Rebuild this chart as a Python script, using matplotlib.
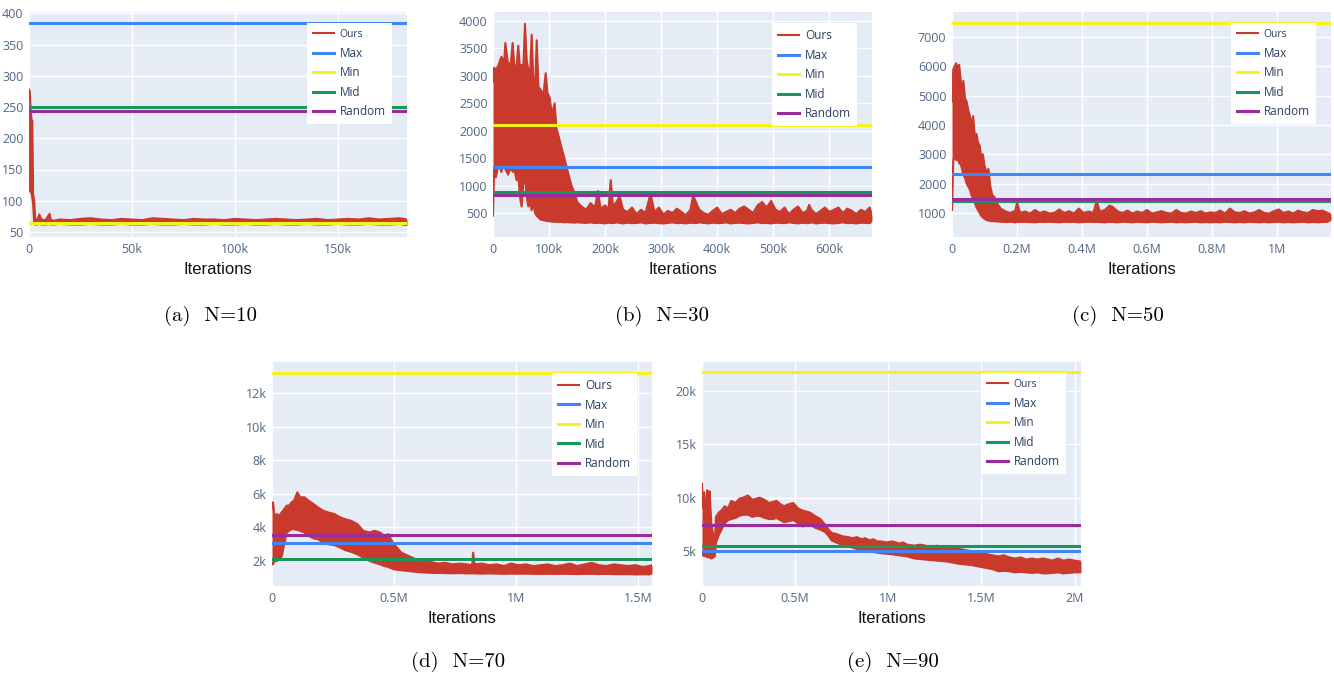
import matplotlib
matplotlib.use('Agg')
import matplotlib.pyplot as plt

# ---- data ----
# baselines (Max, Min, Mid, Random) per panel
base_labels = ['Max', 'Min', 'Mid', 'Random']
base_a = [385, 65, 250, 243]
base_b = [1340, 2100, 880, 830]
base_c = [2330, 7480, 1420, 1460]
base_d = [3100, 13220, 2150, 3550]
base_e = [5000, 21750, 5500, 7400]

# "Ours" curve as lower / upper envelope. (a),(b): thousands of iterations; (c),(d),(e): millions
x_a = [0, 0.4, 0.8, 1.2, 1.6, 2.0, 2.5, 3, 4, 5, 6, 8, 10, 10.5, 12, 15, 20, 25, 30, 35, 40, 45,
       50, 55, 60, 65, 70, 75, 80, 85, 90, 95, 100, 105, 110, 115, 120, 125, 130, 135, 140, 145,
       150, 155, 160, 165, 170, 175, 180, 183.5]
hi_a = [278, 275, 245, 230, 228, 110, 100, 72, 68, 78, 70, 69, 79, 70, 68, 70, 69, 71, 72, 70, 69, 71,
        70, 69, 72, 71, 70, 69, 71, 70, 70, 69, 71, 70, 69, 70, 71, 70, 69, 70, 71, 69,
        70, 71, 70, 72, 70, 71, 72, 70]
lo_a = [245, 115, 118, 112, 105, 95, 66, 62, 62, 63, 62, 62, 63, 62, 62, 63, 62, 62, 63, 62, 62, 63,
        62, 62, 63, 62, 62, 63, 62, 62, 63, 62, 62, 63, 62, 62, 63, 62, 62, 63, 62, 62,
        63, 62, 62, 63, 62, 62, 63, 61]

x_b = [0, 2, 5, 10, 15, 20, 22, 27, 32, 35, 38, 42, 45, 48, 51, 54, 57, 60, 63, 66,
       69, 72, 75, 78, 81, 85, 90, 94, 97, 101, 105, 110, 113, 117, 122, 126, 131, 136, 140, 146,
       150, 158, 166, 174, 182, 187, 192, 200, 206, 210, 214, 220, 226, 232, 240, 248, 256, 264,
       272, 281, 288, 296, 304, 312, 320, 328, 336, 344, 352, 357, 362, 368, 376, 384, 392, 400,
       408, 416, 424, 432, 440, 448, 456, 464, 472, 480, 488, 496, 504, 512, 520, 528, 536, 544,
       552, 560, 564, 568, 576, 584, 592, 600, 608, 616, 624, 632, 640, 648, 656, 664, 672, 676]
hi_b = [2900, 3150, 3100, 3200, 3350, 3250, 3600, 3200, 3250, 3600, 3200, 3150, 3550, 3150, 3200,
        3100, 3950, 3300, 3100, 3000, 3750, 2900, 2750, 3650, 2800, 2750, 2650, 3050, 2700, 2600,
        2300, 2500, 2050, 1900, 1700, 1550, 1350, 1150, 1000, 850,
        700, 620, 560, 680, 600, 900, 580, 640, 560, 1100, 620, 700, 800, 560, 520, 600, 480, 560,
        500, 850, 520, 600, 470, 540, 500, 580, 520, 460, 560, 820, 700, 560, 500, 470, 540, 600,
        480, 520, 560, 500, 580, 620, 560, 500, 640, 700, 600, 720, 560, 520, 600, 480, 560, 620,
        500, 540, 650, 560, 480, 540, 600, 520, 560, 600, 500, 580, 540, 480, 560, 520, 600, 450]
lo_b = [450, 1300, 1150, 1400, 1250, 1450, 1300, 1200, 1350, 1250, 1300, 1100, 1200, 800, 620,
        1000, 1250, 800, 620, 700, 550, 700, 500, 450, 420, 380, 370, 360, 355, 350, 345, 340,
        345, 335, 340, 330, 335, 330, 330, 325,
        330, 325, 320, 330, 315, 325, 320, 310, 325, 320, 315, 330, 320, 310, 325, 315, 320, 330,
        310, 320, 325, 315, 310, 320, 330, 315, 320, 310, 325, 320, 315, 330, 320, 310, 325, 315,
        320, 330, 310, 320, 325, 315, 310, 320, 330, 315, 320, 310, 325, 320, 315, 330, 320, 310,
        325, 315, 320, 330, 310, 320, 325, 315, 310, 320, 330, 315, 320, 310, 325, 320, 315, 360]

x_c = [0, 0.004, 0.008, 0.013, 0.018, 0.022, 0.027, 0.031, 0.035, 0.04, 0.045, 0.05, 0.055, 0.06,
       0.065, 0.07, 0.075, 0.08, 0.085, 0.09, 0.095, 0.1, 0.106, 0.112, 0.118, 0.124, 0.13, 0.14,
       0.15, 0.165, 0.18, 0.195, 0.2, 0.21, 0.225, 0.24, 0.255, 0.27, 0.285, 0.3, 0.315, 0.33,
       0.345, 0.36, 0.375, 0.39, 0.405, 0.42, 0.435, 0.445, 0.455, 0.47, 0.485, 0.495, 0.51, 0.525,
       0.54, 0.555, 0.57, 0.585, 0.6, 0.615, 0.63, 0.645, 0.66, 0.675, 0.69, 0.705, 0.72, 0.735,
       0.75, 0.765, 0.78, 0.795, 0.81, 0.825, 0.84, 0.855, 0.87, 0.885, 0.9, 0.915, 0.93, 0.945,
       0.96, 0.975, 0.99, 1.005, 1.02, 1.035, 1.05, 1.065, 1.08, 1.095, 1.11, 1.125, 1.14, 1.155,
       1.166]
hi_c = [4800, 5900, 6000, 6100, 5900, 6050, 5500, 5200, 5500, 4900, 4800, 4500, 4300, 4000, 4300,
        3600, 3700, 3400, 3300, 2900, 3000, 2600, 2400, 2500, 1900, 1600, 1550, 1300,
        1150, 1050, 1000, 1080, 1350, 1000, 1050, 980, 1100, 1000, 1050, 980, 1000, 1120, 1000,
        1060, 980, 1150, 1000, 1050, 1000, 1400, 1050, 1100, 1250, 1200, 1050, 1000, 1080, 980,
        1050, 1000, 1100, 980, 1020, 1060, 1000, 980, 1100, 1000, 980, 1050, 1000, 1060, 980, 1020,
        1000, 1080, 980, 1150, 1020, 1000, 1060, 980, 1020, 1100, 1000, 980, 1060, 1120, 1000, 1050,
        980, 1080, 1020, 1000, 1100, 1060, 1080, 1000, 950]
lo_c = [1100, 2800, 2900, 2800, 2850, 2700, 2650, 2500, 2300, 2200, 2000, 1900, 1800, 1600, 1500,
        1350, 1200, 1100, 1000, 900, 850, 800, 760, 740, 730, 720, 720, 710,
        700, 690, 700, 680, 700, 690, 700, 690, 680, 700, 690, 700, 690, 680, 700, 690, 700, 680,
        690, 700, 690, 700, 690, 680, 700, 690, 680, 700, 690, 680, 700, 690, 680, 700, 690, 680,
        690, 700, 680, 690, 680, 690, 700, 680, 690, 680, 690, 680, 700, 690, 680, 690, 680, 700,
        690, 680, 690, 680, 690, 700, 680, 690, 680, 690, 700, 680, 690, 680, 690, 700, 760]

x_d = [0, 0.004, 0.01, 0.02, 0.03, 0.04, 0.05, 0.06, 0.07, 0.08, 0.09, 0.104, 0.115, 0.133, 0.15,
       0.17, 0.188, 0.21, 0.23, 0.256, 0.28, 0.3, 0.324, 0.35, 0.374, 0.4, 0.42, 0.443, 0.46,
       0.475, 0.5, 0.53, 0.56, 0.59, 0.62, 0.65, 0.68, 0.71, 0.74, 0.77, 0.8, 0.82, 0.824, 0.83,
       0.86, 0.89, 0.92, 0.95, 0.98, 1.01, 1.04, 1.07, 1.1, 1.13, 1.16, 1.19, 1.22, 1.25, 1.28,
       1.31, 1.34, 1.37, 1.4, 1.43, 1.46, 1.49, 1.52, 1.545, 1.557]
hi_d = [5200, 5500, 4700, 4800, 4700, 4900, 5100, 5300, 5300, 5500, 5600, 6100, 5800, 5800, 5600,
        5400, 5200, 5000, 4900, 4800, 4600, 4500, 4400, 4200, 3800, 3700, 3800, 3700, 3500, 3600,
        3000, 2500, 2300, 2100, 2000, 1950, 1850, 1900, 1800, 1850, 1800, 1750, 2500, 1800, 1850,
        1750, 1800, 1700, 1850, 1750, 1800, 1700, 1750, 1800, 1700, 1750, 1850, 1700, 1800, 1900,
        1750, 1700, 1800, 1750, 1700, 1750, 1650, 1700, 1750]
lo_d = [1900, 1800, 2000, 2000, 2100, 2300, 3000, 3700, 3800, 3900, 3900, 3850, 3800, 3700, 3500,
        3350, 3300, 3100, 3000, 2950, 2800, 2650, 2550, 2400, 2200, 2000, 1900, 1800, 1700, 1650,
        1500, 1450, 1400, 1350, 1320, 1300, 1290, 1280, 1270, 1280, 1260, 1270, 1260, 1260, 1250,
        1260, 1250, 1240, 1250, 1240, 1250, 1240, 1230, 1240, 1230, 1240, 1230, 1220, 1230, 1240,
        1220, 1230, 1220, 1210, 1220, 1200, 1210, 1200, 1250]

x_e = [0, 0.005, 0.012, 0.02, 0.028, 0.035, 0.041, 0.05, 0.06, 0.068, 0.075, 0.09, 0.104, 0.122,
       0.14, 0.157, 0.18, 0.2, 0.22, 0.247, 0.27, 0.29, 0.31, 0.336, 0.36, 0.38, 0.4, 0.42, 0.44,
       0.467, 0.49, 0.515, 0.54, 0.56, 0.58, 0.605, 0.635, 0.659, 0.68, 0.695,
       0.72, 0.75, 0.784, 0.81, 0.83, 0.86, 0.874, 0.9, 0.92, 0.94, 0.96, 0.99, 1.02, 1.057, 1.08,
       1.1, 1.14, 1.17, 1.2, 1.23, 1.26, 1.29, 1.32, 1.35, 1.38, 1.41, 1.44, 1.47, 1.5, 1.53,
       1.56, 1.59, 1.62, 1.65, 1.68, 1.71, 1.74, 1.77, 1.8, 1.83, 1.857, 1.88, 1.91, 1.94, 1.97,
       2.0, 2.034]
hi_e = [11300, 9000, 10500, 8000, 10700, 9500, 10600, 7500, 6500, 5600, 8200, 8600, 8800, 9200,
        9000, 9700, 9500, 9900, 10000, 10200, 9800, 9900, 10000, 9800, 9500, 9600, 9700, 9400, 9200,
        9400, 9500, 9000, 8800, 8700, 8600, 8300, 8000, 7500, 7000, 6700,
        6600, 6400, 6300, 6200, 6300, 6100, 6200, 6000, 6100, 5900, 5900, 5800, 5900, 5700, 5800,
        5600, 5500, 5600, 5500, 5400, 5500, 5300, 5300, 5400, 5200, 5100, 5000, 4900, 4800, 4700,
        4600, 4500, 4600, 4400, 4300, 4400, 4200, 4300, 4200, 4300, 4200, 4100, 4300, 4100, 4200,
        4100, 4000]
lo_e = [4800, 4600, 4500, 4600, 4400, 4500, 4400, 4300, 4400, 4500, 5800, 6500, 7000, 7600,
        7900, 8000, 8100, 8300, 8400, 8400, 8200, 8300, 8300, 8100, 8000, 8000, 8100, 7900, 7700,
        7800, 7900, 7600, 7300, 7400, 7500, 7200, 7000, 6800, 6400, 6000,
        5800, 5600, 5500, 5300, 5200, 5100, 5000, 4950, 4900, 4850, 4800, 4750, 4700, 4600, 4550,
        4500, 4300, 4250, 4200, 4150, 4100, 4050, 4000, 3900, 3800, 3750, 3700, 3600, 3500, 3400,
        3300, 3100, 3150, 3100, 3000, 3050, 3000, 2950, 3000, 2900, 2900, 2950, 3000, 2900, 2950,
        3000, 3000]

# axis ticks
xt_a, xl_a = [0, 50, 100, 150], ['0', '50k', '100k', '150k']
yt_a = [50, 100, 150, 200, 250, 300, 350, 400]
xt_b, xl_b = [0, 100, 200, 300, 400, 500, 600], ['0', '100k', '200k', '300k', '400k', '500k', '600k']
yt_b = [500, 1000, 1500, 2000, 2500, 3000, 3500, 4000]
xt_c, xl_c = [0, 0.2, 0.4, 0.6, 0.8, 1.0], ['0', '0.2M', '0.4M', '0.6M', '0.8M', '1M']
yt_c = [1000, 2000, 3000, 4000, 5000, 6000, 7000]
xt_d, xl_d = [0, 0.5, 1.0, 1.5], ['0', '0.5M', '1M', '1.5M']
yt_d, yl_d = [2000, 4000, 6000, 8000, 10000, 12000], ['2k', '4k', '6k', '8k', '10k', '12k']
xt_e, xl_e = [0, 0.5, 1.0, 1.5, 2.0], ['0', '0.5M', '1M', '1.5M', '2M']
yt_e, yl_e = [5000, 10000, 15000, 20000], ['5k', '10k', '15k', '20k']

captions = ['(a)  N=10', '(b)  N=30', '(c)  N=50', '(d)  N=70', '(e)  N=90']

# ---- style ----
c_ours = '#c9392c'
c_base = ['#4285f4', '#f5f21c', '#16985a', '#9b2a9b']
bg = '#e5ecf6'
tick_col = '#506784'

W, H = 1334, 678
fig = plt.figure(figsize=(W / 100, H / 100), dpi=100)


def panel(rect, x, lo, hi, base, xlim, ylim, xt, xl, yt, yl=None, small_ours=False):
    ax = fig.add_axes(rect)
    ax.set_facecolor(bg)
    for s in ax.spines.values():
        s.set_visible(False)
    ax.grid(True, color='white', linewidth=1)
    ax.set_axisbelow(True)
    ax.fill_between(x, lo, hi, color=c_ours, linewidth=0, zorder=2)
    ax.plot(x, hi, color=c_ours, linewidth=1.5, label='Ours', zorder=2)
    ax.plot(x, lo, color=c_ours, linewidth=1.5, zorder=2)
    for lab, val, col in zip(base_labels, base, c_base):
        ax.axhline(val, color=col, linewidth=2.2, label=lab, zorder=3)
    ax.set_xlim(*xlim)
    ax.set_ylim(*ylim)
    ax.set_xticks(xt)
    ax.set_xticklabels(xl)
    ax.set_yticks(yt)
    ax.set_yticklabels(yl if yl else [str(v) for v in yt])
    ax.tick_params(length=0, pad=4, labelsize=9, labelcolor=tick_col)
    for t in ax.get_xticklabels() + ax.get_yticklabels():
        t.set_family('Open Sans')
    ax.set_xlabel('Iterations', fontsize=12, family='Liberation Sans', color='#111111')
    ax.xaxis.set_label_coords(0.5, -0.112)
    leg = ax.legend(loc='upper right', bbox_to_anchor=(0.96, 0.95), borderaxespad=0,
                    frameon=True, fancybox=False, framealpha=1, edgecolor='white',
                    prop={'family': 'Open Sans', 'size': 8.5}, handlelength=1.8,
                    labelspacing=0.55, borderpad=0.5, handletextpad=0.5)
    leg.get_frame().set_linewidth(0)
    for t in leg.get_texts():
        t.set_color('#2a3f5f')
    if small_ours:
        leg.get_texts()[0].set_fontsize(7.5)
    return ax


top_b, top_h = 1 - 237 / H, 225 / H
bot_b, bot_h = 1 - 586 / H, 224 / H

panel([29 / W, top_b, 378 / W, top_h], x_a, lo_a, hi_a, base_a, (0, 183.5), (42, 402),
      xt_a, xl_a, yt_a, small_ours=True)
panel([493 / W, top_b, 379 / W, top_h], x_b, lo_b, hi_b, base_b, (0, 676), (63, 4165),
      xt_b, xl_b, yt_b)
panel([952 / W, top_b, 379 / W, top_h], x_c, lo_c, hi_c, base_c, (0, 1.166), (180, 7850),
      xt_c, xl_c, yt_c, small_ours=True)
panel([272 / W, bot_b, 380 / W, bot_h], x_d, lo_d, hi_d, base_d, (0, 1.557), (510, 13870),
      xt_d, xl_d, yt_d, yl_d)
panel([702 / W, bot_b, 379 / W, bot_h], x_e, lo_e, hi_e, base_e, (0, 2.034), (1720, 22720),
      xt_e, xl_e, yt_e, yl_e, small_ours=True)

cap_pos = [(210, 316), (662, 316), (1118, 316), (458, 662), (893, 662)]
for txt, (px, py) in zip(captions, cap_pos):
    fig.text(px / W, 1 - py / H, txt, ha='center', va='center', fontsize=15, family='cmr10')

fig.savefig('out.png', dpi=100)
